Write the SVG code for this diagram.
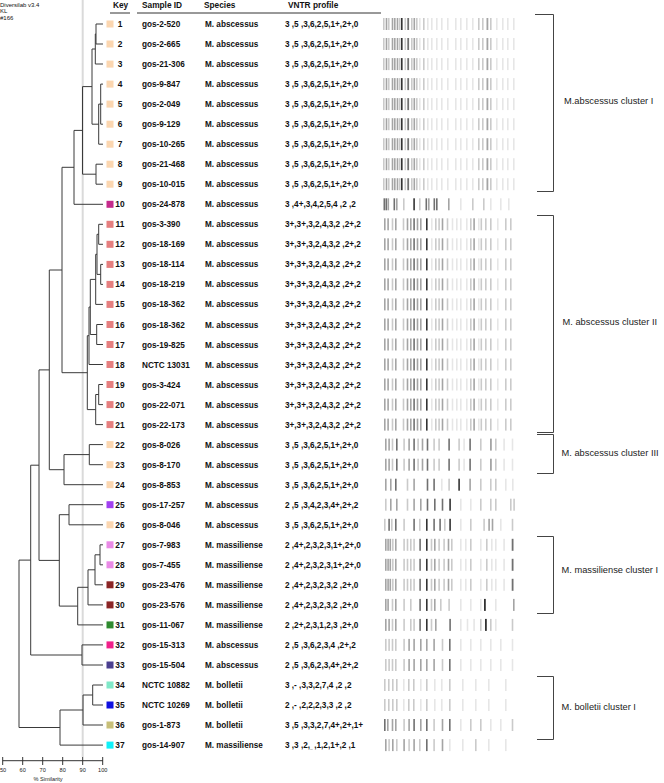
<svg xmlns="http://www.w3.org/2000/svg" xmlns:xlink="http://www.w3.org/1999/xlink" width="664" height="783" viewBox="0 0 664 783">
<style>
text{font-family:"Liberation Sans",Arial,sans-serif;fill:#111}
.hd{font-size:8.3px;font-weight:bold}
.t{font-size:8.2px;font-weight:bold}
.n{font-size:8.4px;font-weight:bold;text-anchor:middle}
.cl{font-size:9.3px;fill:#222}
.sm{font-size:6px;fill:#111}
.ax{font-size:5.6px;fill:#222;text-anchor:middle}
.tree{fill:none;stroke:#3a3a3a;stroke-width:1}
.br{fill:none;stroke:#444;stroke-width:1}
.k1{fill:#e6e6e6}.k2{fill:#cacaca}.k3{fill:#a4a4a4}.k4{fill:#707070}.k5{fill:#333}
</style>
<defs>
<filter id="soft" x="-2%" y="0" width="104%" height="100%"><feGaussianBlur stdDeviation="0.65 0"/></filter>
<g id="bA" filter="url(#soft)"><rect class="k2" x="383" y="-6" width="1.6" height="12"/><rect class="k3" x="385.7" y="-6" width="1.6" height="12"/><rect class="k2" x="388" y="-6" width="1.6" height="12"/><rect class="k3" x="391.7" y="-6" width="1.6" height="12"/><rect class="k3" x="394" y="-6" width="1.6" height="12"/><rect class="k3" x="396.7" y="-6" width="1.6" height="12"/><rect class="k2" x="399" y="-6" width="1.6" height="12"/><rect class="k5" x="401" y="-6" width="1.6" height="12"/><rect class="k2" x="404.5" y="-6" width="1.6" height="12"/><rect class="k4" x="407.3" y="-6" width="1.8" height="12"/><rect class="k2" x="411" y="-6" width="1.6" height="12"/><rect class="k3" x="413.5" y="-6" width="1.6" height="12"/><rect class="k2" x="416" y="-6" width="1.6" height="12"/><rect class="k1" x="419" y="-6" width="1.6" height="12"/><rect class="k2" x="423" y="-6" width="1.6" height="12"/><rect class="k1" x="427" y="-6" width="1.6" height="12"/><rect class="k1" x="431" y="-6" width="1.6" height="12"/><rect class="k1" x="436" y="-6" width="1.6" height="12"/><rect class="k1" x="441" y="-6" width="1.6" height="12"/><rect class="k1" x="447" y="-6" width="1.6" height="12"/><rect class="k1" x="455" y="-6" width="1.6" height="12"/><rect class="k1" x="460" y="-6" width="1.6" height="12"/><rect class="k1" x="466" y="-6" width="1.6" height="12"/><rect class="k1" x="472" y="-6" width="1.6" height="12"/><rect class="k2" x="478" y="-6" width="1.6" height="12"/><rect class="k2" x="482" y="-6" width="1.6" height="12"/><rect class="k3" x="486.5" y="-6" width="1.8" height="12"/><rect class="k2" x="490" y="-6" width="1.6" height="12"/><rect class="k1" x="496" y="-6" width="1.6" height="12"/><rect class="k1" x="502" y="-6" width="1.6" height="12"/><rect class="k1" x="507" y="-6" width="1.6" height="12"/><rect class="k1" x="513" y="-6" width="1.6" height="12"/></g>
<g id="bB" filter="url(#soft)"><rect class="k4" x="383.5" y="-6" width="1.6" height="12"/><rect class="k4" x="385.5" y="-6" width="1.6" height="12"/><rect class="k3" x="387.5" y="-6" width="1.6" height="12"/><rect class="k4" x="393.5" y="-6" width="1.6" height="12"/><rect class="k3" x="396" y="-6" width="1.6" height="12"/><rect class="k2" x="403" y="-6" width="1.6" height="12"/><rect class="k5" x="413.3" y="-6" width="1.6" height="12"/><rect class="k2" x="419" y="-6" width="1.6" height="12"/><rect class="k4" x="425.5" y="-6" width="1.6" height="12"/><rect class="k3" x="428" y="-6" width="1.6" height="12"/><rect class="k4" x="433.5" y="-6" width="1.6" height="12"/><rect class="k4" x="436" y="-6" width="1.6" height="12"/><rect class="k3" x="448" y="-6" width="1.6" height="12"/><rect class="k1" x="460" y="-6" width="1.6" height="12"/><rect class="k2" x="472" y="-6" width="1.6" height="12"/><rect class="k2" x="483" y="-6" width="1.6" height="12"/><rect class="k1" x="490" y="-6" width="1.6" height="12"/><rect class="k1" x="500" y="-6" width="1.6" height="12"/><rect class="k1" x="508" y="-6" width="1.6" height="12"/></g>
<g id="bC" filter="url(#soft)"><rect class="k3" x="384" y="-6" width="1.6" height="12"/><rect class="k3" x="387.3" y="-6" width="1.6" height="12"/><rect class="k2" x="391.7" y="-6" width="1.6" height="12"/><rect class="k3" x="395" y="-6" width="1.6" height="12"/><rect class="k2" x="402.7" y="-6" width="1.6" height="12"/><rect class="k3" x="406.7" y="-6" width="1.6" height="12"/><rect class="k3" x="410" y="-6" width="1.6" height="12"/><rect class="k4" x="413.3" y="-6" width="1.6" height="12"/><rect class="k3" x="416.7" y="-6" width="1.6" height="12"/><rect class="k3" x="420" y="-6" width="1.6" height="12"/><rect class="k5" x="426" y="-6" width="1.6" height="12"/><rect class="k1" x="431" y="-6" width="1.6" height="12"/><rect class="k2" x="435" y="-6" width="1.6" height="12"/><rect class="k2" x="438.3" y="-6" width="1.6" height="12"/><rect class="k3" x="441.7" y="-6" width="1.6" height="12"/><rect class="k2" x="446.7" y="-6" width="1.6" height="12"/><rect class="k1" x="451.7" y="-6" width="1.6" height="12"/><rect class="k1" x="456" y="-6" width="1.6" height="12"/><rect class="k1" x="460" y="-6" width="1.6" height="12"/><rect class="k1" x="466" y="-6" width="1.6" height="12"/><rect class="k2" x="470" y="-6" width="1.6" height="12"/><rect class="k3" x="473.3" y="-6" width="1.6" height="12"/><rect class="k1" x="478" y="-6" width="1.6" height="12"/><rect class="k2" x="480.5" y="-6" width="1.6" height="12"/><rect class="k2" x="485" y="-6" width="1.6" height="12"/><rect class="k2" x="490" y="-6" width="1.6" height="12"/><rect class="k1" x="497" y="-6" width="1.6" height="12"/><rect class="k2" x="505" y="-6" width="1.6" height="12"/><rect class="k2" x="510" y="-6" width="1.6" height="12"/></g>
<g id="bD" filter="url(#soft)"><rect class="k3" x="385" y="-6" width="1.6" height="12"/><rect class="k3" x="388.3" y="-6" width="1.6" height="12"/><rect class="k2" x="391.7" y="-6" width="1.6" height="12"/><rect class="k4" x="396" y="-6" width="1.6" height="12"/><rect class="k2" x="403.3" y="-6" width="1.6" height="12"/><rect class="k3" x="408.3" y="-6" width="1.6" height="12"/><rect class="k4" x="413.3" y="-6" width="1.6" height="12"/><rect class="k2" x="417.3" y="-6" width="1.6" height="12"/><rect class="k3" x="421.7" y="-6" width="1.6" height="12"/><rect class="k4" x="426.7" y="-6" width="1.6" height="12"/><rect class="k2" x="433.3" y="-6" width="1.6" height="12"/><rect class="k2" x="438.3" y="-6" width="1.6" height="12"/><rect class="k4" x="448.3" y="-6" width="1.6" height="12"/><rect class="k2" x="458.3" y="-6" width="1.6" height="12"/><rect class="k1" x="463.3" y="-6" width="1.6" height="12"/><rect class="k4" x="469.3" y="-6" width="1.6" height="12"/><rect class="k2" x="480" y="-6" width="1.6" height="12"/><rect class="k3" x="490" y="-6" width="1.8" height="12"/><rect class="k2" x="495" y="-6" width="1.6" height="12"/><rect class="k1" x="503.3" y="-6" width="1.6" height="12"/><rect class="k1" x="511.7" y="-6" width="1.6" height="12"/></g>
<g id="bE" filter="url(#soft)"><rect class="k3" x="385" y="-6" width="1.6" height="12"/><rect class="k3" x="390" y="-6" width="1.6" height="12"/><rect class="k4" x="395" y="-6" width="1.6" height="12"/><rect class="k2" x="406.7" y="-6" width="1.6" height="12"/><rect class="k3" x="413.3" y="-6" width="1.6" height="12"/><rect class="k4" x="426.7" y="-6" width="1.6" height="12"/><rect class="k4" x="433.3" y="-6" width="1.6" height="12"/><rect class="k1" x="441" y="-6" width="1.6" height="12"/><rect class="k2" x="448.3" y="-6" width="1.6" height="12"/><rect class="k5" x="458.3" y="-6" width="1.6" height="12"/><rect class="k3" x="469.3" y="-6" width="1.6" height="12"/><rect class="k2" x="480" y="-6" width="1.6" height="12"/><rect class="k2" x="490" y="-6" width="1.6" height="12"/><rect class="k2" x="495" y="-6" width="1.6" height="12"/><rect class="k1" x="505" y="-6" width="1.6" height="12"/><rect class="k1" x="512" y="-6" width="1.6" height="12"/></g>
<g id="bF" filter="url(#soft)"><rect class="k2" x="385" y="-6" width="1.6" height="12"/><rect class="k3" x="390" y="-6" width="1.6" height="12"/><rect class="k3" x="396" y="-6" width="1.6" height="12"/><rect class="k2" x="406.7" y="-6" width="1.6" height="12"/><rect class="k3" x="413.3" y="-6" width="1.6" height="12"/><rect class="k3" x="420" y="-6" width="1.6" height="12"/><rect class="k4" x="426.7" y="-6" width="1.6" height="12"/><rect class="k4" x="434" y="-6" width="1.6" height="12"/><rect class="k4" x="441.7" y="-6" width="1.6" height="12"/><rect class="k5" x="449.3" y="-6" width="1.6" height="12"/><rect class="k1" x="460" y="-6" width="1.6" height="12"/><rect class="k1" x="470" y="-6" width="1.6" height="12"/><rect class="k2" x="480" y="-6" width="1.6" height="12"/><rect class="k2" x="490" y="-6" width="1.6" height="12"/><rect class="k2" x="495" y="-6" width="1.6" height="12"/><rect class="k2" x="510" y="-6" width="1.6" height="12"/><rect class="k2" x="513.3" y="-6" width="1.6" height="12"/></g>
<g id="bG" filter="url(#soft)"><rect class="k2" x="384" y="-6" width="1.6" height="12"/><rect class="k4" x="388.3" y="-6" width="1.6" height="12"/><rect class="k2" x="391" y="-6" width="1.6" height="12"/><rect class="k4" x="395" y="-6" width="1.6" height="12"/><rect class="k2" x="403.3" y="-6" width="1.6" height="12"/><rect class="k4" x="413.3" y="-6" width="1.6" height="12"/><rect class="k2" x="419" y="-6" width="1.6" height="12"/><rect class="k5" x="426" y="-6" width="1.6" height="12"/><rect class="k4" x="433.3" y="-6" width="1.6" height="12"/><rect class="k4" x="439.3" y="-6" width="1.6" height="12"/><rect class="k2" x="444" y="-6" width="1.6" height="12"/><rect class="k5" x="449.3" y="-6" width="1.6" height="12"/><rect class="k1" x="460" y="-6" width="1.6" height="12"/><rect class="k2" x="470" y="-6" width="1.6" height="12"/><rect class="k2" x="483.3" y="-6" width="1.6" height="12"/><rect class="k3" x="488.3" y="-6" width="1.6" height="12"/><rect class="k3" x="491.7" y="-6" width="1.6" height="12"/><rect class="k1" x="500" y="-6" width="1.6" height="12"/><rect class="k2" x="511.7" y="-6" width="1.6" height="12"/></g>
<g id="bH" filter="url(#soft)"><rect class="k3" x="385" y="-6" width="1.6" height="12"/><rect class="k3" x="387.3" y="-6" width="1.6" height="12"/><rect class="k3" x="389.5" y="-6" width="1.6" height="12"/><rect class="k2" x="392" y="-6" width="1.6" height="12"/><rect class="k3" x="395" y="-6" width="1.6" height="12"/><rect class="k2" x="403.3" y="-6" width="1.6" height="12"/><rect class="k2" x="406.7" y="-6" width="1.6" height="12"/><rect class="k2" x="410" y="-6" width="1.6" height="12"/><rect class="k2" x="413.3" y="-6" width="1.6" height="12"/><rect class="k4" x="419.3" y="-6" width="1.6" height="12"/><rect class="k5" x="426" y="-6" width="1.6" height="12"/><rect class="k2" x="430.7" y="-6" width="1.6" height="12"/><rect class="k3" x="434" y="-6" width="1.6" height="12"/><rect class="k2" x="438.3" y="-6" width="1.6" height="12"/><rect class="k2" x="443.3" y="-6" width="1.6" height="12"/><rect class="k3" x="447.7" y="-6" width="1.6" height="12"/><rect class="k2" x="451" y="-6" width="1.6" height="12"/><rect class="k1" x="460" y="-6" width="1.6" height="12"/><rect class="k1" x="465" y="-6" width="1.6" height="12"/><rect class="k2" x="470" y="-6" width="1.6" height="12"/><rect class="k1" x="480" y="-6" width="1.6" height="12"/><rect class="k2" x="486" y="-6" width="1.6" height="12"/><rect class="k1" x="491" y="-6" width="1.6" height="12"/><rect class="k1" x="495" y="-6" width="1.6" height="12"/><rect class="k1" x="503.3" y="-6" width="1.6" height="12"/><rect class="k4" x="511.7" y="-6" width="1.8" height="12"/></g>
<g id="bH2" filter="url(#soft)"><rect class="k3" x="385" y="-6" width="1.6" height="12"/><rect class="k3" x="387.3" y="-6" width="1.6" height="12"/><rect class="k2" x="391.7" y="-6" width="1.6" height="12"/><rect class="k3" x="395" y="-6" width="1.6" height="12"/><rect class="k2" x="403.3" y="-6" width="1.6" height="12"/><rect class="k2" x="410" y="-6" width="1.6" height="12"/><rect class="k4" x="419.3" y="-6" width="1.6" height="12"/><rect class="k5" x="426" y="-6" width="1.6" height="12"/><rect class="k2" x="430.7" y="-6" width="1.6" height="12"/><rect class="k3" x="434" y="-6" width="1.6" height="12"/><rect class="k2" x="440" y="-6" width="1.6" height="12"/><rect class="k2" x="448.3" y="-6" width="1.6" height="12"/><rect class="k1" x="460" y="-6" width="1.6" height="12"/><rect class="k1" x="470" y="-6" width="1.6" height="12"/><rect class="k1" x="480" y="-6" width="1.6" height="12"/><rect class="k5" x="484" y="-6" width="1.8" height="12"/><rect class="k1" x="495" y="-6" width="1.6" height="12"/><rect class="k3" x="513" y="-6" width="1.6" height="12"/></g>
<g id="bH3" filter="url(#soft)"><rect class="k3" x="385" y="-6" width="1.6" height="12"/><rect class="k3" x="388.3" y="-6" width="1.6" height="12"/><rect class="k2" x="391.7" y="-6" width="1.6" height="12"/><rect class="k3" x="395" y="-6" width="1.6" height="12"/><rect class="k2" x="403.3" y="-6" width="1.6" height="12"/><rect class="k2" x="410" y="-6" width="1.6" height="12"/><rect class="k2" x="413.3" y="-6" width="1.6" height="12"/><rect class="k4" x="419.3" y="-6" width="1.6" height="12"/><rect class="k5" x="426" y="-6" width="1.6" height="12"/><rect class="k2" x="430.7" y="-6" width="1.6" height="12"/><rect class="k3" x="435" y="-6" width="1.6" height="12"/><rect class="k4" x="449.3" y="-6" width="1.6" height="12"/><rect class="k1" x="460" y="-6" width="1.6" height="12"/><rect class="k1" x="466.7" y="-6" width="1.6" height="12"/><rect class="k1" x="473.3" y="-6" width="1.6" height="12"/><rect class="k2" x="480" y="-6" width="1.6" height="12"/><rect class="k5" x="485" y="-6" width="1.8" height="12"/><rect class="k2" x="490" y="-6" width="1.6" height="12"/><rect class="k1" x="495" y="-6" width="1.6" height="12"/><rect class="k2" x="511.7" y="-6" width="1.6" height="12"/></g>
<g id="bI" filter="url(#soft)"><rect class="k2" x="385" y="-6" width="1.6" height="12"/><rect class="k2" x="388.3" y="-6" width="1.6" height="12"/><rect class="k2" x="391.7" y="-6" width="1.6" height="12"/><rect class="k2" x="395" y="-6" width="1.6" height="12"/><rect class="k2" x="403.3" y="-6" width="1.6" height="12"/><rect class="k3" x="408.3" y="-6" width="1.6" height="12"/><rect class="k3" x="413.3" y="-6" width="1.6" height="12"/><rect class="k3" x="420" y="-6" width="1.6" height="12"/><rect class="k3" x="426" y="-6" width="1.6" height="12"/><rect class="k3" x="433.3" y="-6" width="1.6" height="12"/><rect class="k2" x="441.7" y="-6" width="1.6" height="12"/><rect class="k4" x="449" y="-6" width="1.6" height="12"/><rect class="k1" x="460" y="-6" width="1.6" height="12"/><rect class="k1" x="470" y="-6" width="1.6" height="12"/><rect class="k1" x="480" y="-6" width="1.6" height="12"/><rect class="k1" x="490" y="-6" width="1.6" height="12"/><rect class="k1" x="500" y="-6" width="1.6" height="12"/><rect class="k1" x="511.7" y="-6" width="1.6" height="12"/></g>
<g id="bJ" filter="url(#soft)"><rect class="k2" x="384" y="-6" width="1.6" height="12"/><rect class="k2" x="388" y="-6" width="1.6" height="12"/><rect class="k2" x="392" y="-6" width="1.6" height="12"/><rect class="k2" x="396" y="-6" width="1.6" height="12"/><rect class="k1" x="403" y="-6" width="1.6" height="12"/><rect class="k2" x="408" y="-6" width="1.6" height="12"/><rect class="k2" x="413" y="-6" width="1.6" height="12"/><rect class="k1" x="420" y="-6" width="1.6" height="12"/><rect class="k2" x="426" y="-6" width="1.6" height="12"/><rect class="k1" x="434" y="-6" width="1.6" height="12"/><rect class="k1" x="441" y="-6" width="1.6" height="12"/><rect class="k2" x="449" y="-6" width="1.6" height="12"/><rect class="k1" x="462" y="-6" width="1.6" height="12"/><rect class="k1" x="475" y="-6" width="1.6" height="12"/><rect class="k1" x="488" y="-6" width="1.6" height="12"/><rect class="k1" x="505" y="-6" width="1.6" height="12"/></g>
<g id="bK" filter="url(#soft)"><rect class="k4" x="384" y="-6" width="1.6" height="12"/><rect class="k3" x="387" y="-6" width="1.6" height="12"/><rect class="k3" x="391.7" y="-6" width="1.6" height="12"/><rect class="k3" x="395" y="-6" width="1.6" height="12"/><rect class="k2" x="403.3" y="-6" width="1.6" height="12"/><rect class="k3" x="408.3" y="-6" width="1.6" height="12"/><rect class="k4" x="413.3" y="-6" width="1.6" height="12"/><rect class="k3" x="420" y="-6" width="1.6" height="12"/><rect class="k4" x="426" y="-6" width="1.6" height="12"/><rect class="k2" x="433.3" y="-6" width="1.6" height="12"/><rect class="k3" x="441.7" y="-6" width="1.6" height="12"/><rect class="k4" x="449" y="-6" width="1.6" height="12"/><rect class="k1" x="460" y="-6" width="1.6" height="12"/><rect class="k2" x="470" y="-6" width="1.6" height="12"/><rect class="k2" x="480" y="-6" width="1.6" height="12"/><rect class="k1" x="490" y="-6" width="1.6" height="12"/><rect class="k1" x="500" y="-6" width="1.6" height="12"/><rect class="k2" x="511.7" y="-6" width="1.6" height="12"/></g>
<g id="bL" filter="url(#soft)"><rect class="k3" x="385" y="-6" width="1.6" height="12"/><rect class="k2" x="388.3" y="-6" width="1.6" height="12"/><rect class="k3" x="392" y="-6" width="1.6" height="12"/><rect class="k2" x="396" y="-6" width="1.6" height="12"/><rect class="k3" x="403.3" y="-6" width="1.6" height="12"/><rect class="k2" x="408.3" y="-6" width="1.6" height="12"/><rect class="k3" x="413.3" y="-6" width="1.6" height="12"/><rect class="k2" x="419" y="-6" width="1.6" height="12"/><rect class="k4" x="426" y="-6" width="1.6" height="12"/><rect class="k2" x="433.3" y="-6" width="1.6" height="12"/><rect class="k3" x="441.7" y="-6" width="1.6" height="12"/><rect class="k1" x="449" y="-6" width="1.6" height="12"/><rect class="k1" x="462" y="-6" width="1.6" height="12"/><rect class="k2" x="475" y="-6" width="1.6" height="12"/><rect class="k1" x="488" y="-6" width="1.6" height="12"/><rect class="k1" x="505" y="-6" width="1.6" height="12"/></g>
</defs>
<rect width="664" height="783" fill="#fff"/>
<text class="sm" x="0" y="7">Diversilab v3.4</text>
<text class="sm" x="0" y="13">KL</text>
<text class="sm" x="0" y="20">#166</text>
<line x1="82.7" y1="0" x2="82.7" y2="757" stroke="#dadada" stroke-width="2"/>
<g id="header">
<text class="hd" x="113" y="8">Key</text>
<text class="hd" x="142" y="8">Sample ID</text>
<text class="hd" x="204" y="8">Species</text>
<text class="hd" x="288" y="8">VNTR profile</text>
<line x1="110" y1="13" x2="130" y2="13" stroke="#333"/>
<line x1="137" y1="13" x2="381" y2="13" stroke="#333"/>
</g>
<g id="connectors" class="tree">
<path d="M103 24H96V44H103 M96 34H95.3V64H103 M103 84.1H100.7V124.2H103 M100.7 104.1H103 M100.7 104.1H98.7V144.2H103 M95.3 49H92V124.2H98.7 M103 164.2H96V184.2H103 M92 86.6H82.5V174.2H96 M82.5 130.4H74V204.3H103"/>
<path d="M103 224.3H98.7V244.3H103 M103 264.4H100.7V284.4H103 M98.7 234.3H97V274.4H100.7 M97 254.3H95.7V304.4H103 M103 324.5H96.7V344.5H103 M95.7 279.4H90.3V334.5H96.7 M90.3 307H89V364.5H103 M103 384.5H98.7V404.6H103 M98.7 394.5H95.7V424.6H103 M89 335.7H87.3V409.6H95.7 M74 167.3H62V372.7H87.3"/>
<path d="M103 444.6H89.3V464.7H103 M89.3 454.6H64V484.7H103 M62 270H49.3V469.7H64 M103 504.7H69V524.8H103 M103 544.8H100V564.8H103 M100 554.8H95V584.8H103 M95 569.8H88V604.9H103 M88 587.3H77.7V624.9H103 M69 514.7H59.3V606.1H77.7 M49.3 369.9H39V560.4H59.3 M103 644.9H82V665H103 M39 465.2H30.7V655H82 M103 685H92.7V705H103 M92.7 695H83V725H103 M83 710H60V745.1H103 M30.7 560.1H19V727.5H60"/>
</g>
<g id="axis">
<line x1="2.7" y1="760.7" x2="103" y2="760.7" stroke="#333"/>
<path d="M2.7 757V765 M22.7 757V765 M42.7 757V765 M62.7 757V765 M82.7 757V765 M102.7 757V765" stroke="#333" fill="none"/>
<text class="ax" x="3" y="772">50</text>
<text class="ax" x="22.7" y="772">60</text>
<text class="ax" x="42.7" y="772">70</text>
<text class="ax" x="62.7" y="772">80</text>
<text class="ax" x="82.7" y="772">90</text>
<text class="ax" x="102.7" y="772">100</text>
<text class="ax" x="48" y="781">% Similarity</text>
</g>
<g id="row1"><rect x="106.5" y="20.5" width="7" height="7" fill="#fbd6b0"/><text class="n" x="120" y="27">1</text><text class="t" x="142" y="27">gos-2-520</text><text class="t" x="205" y="27">M. abscessus</text><text class="t" x="285" y="27">3 ,5 ,3,6,2,5,1+,2+,0</text><use xlink:href="#bA" y="24"/></g>
<g id="row2"><rect x="106.5" y="40.5" width="7" height="7" fill="#fbd6b0"/><text class="n" x="120" y="47">2</text><text class="t" x="142" y="47">gos-2-665</text><text class="t" x="205" y="47">M. abscessus</text><text class="t" x="285" y="47">3 ,5 ,3,6,2,5,1+,2+,0</text><use xlink:href="#bA" y="44"/></g>
<g id="row3"><rect x="106.5" y="60.6" width="7" height="7" fill="#fbd6b0"/><text class="n" x="120" y="67.1">3</text><text class="t" x="142" y="67.1">gos-21-306</text><text class="t" x="205" y="67.1">M. abscessus</text><text class="t" x="285" y="67.1">3 ,5 ,3,6,2,5,1+,2+,0</text><use xlink:href="#bA" y="64.1"/></g>
<g id="row4"><rect x="106.5" y="80.6" width="7" height="7" fill="#fbd6b0"/><text class="n" x="120" y="87.1">4</text><text class="t" x="142" y="87.1">gos-9-847</text><text class="t" x="205" y="87.1">M. abscessus</text><text class="t" x="285" y="87.1">3 ,5 ,3,6,2,5,1+,2+,0</text><use xlink:href="#bA" y="84.1"/></g>
<g id="row5"><rect x="106.5" y="100.6" width="7" height="7" fill="#fbd6b0"/><text class="n" x="120" y="107.1">5</text><text class="t" x="142" y="107.1">gos-2-049</text><text class="t" x="205" y="107.1">M. abscessus</text><text class="t" x="285" y="107.1">3 ,5 ,3,6,2,5,1+,2+,0</text><use xlink:href="#bA" y="104.1"/></g>
<g id="row6"><rect x="106.5" y="120.7" width="7" height="7" fill="#fbd6b0"/><text class="n" x="120" y="127.2">6</text><text class="t" x="142" y="127.2">gos-9-129</text><text class="t" x="205" y="127.2">M. abscessus</text><text class="t" x="285" y="127.2">3 ,5 ,3,6,2,5,1+,2+,0</text><use xlink:href="#bA" y="124.2"/></g>
<g id="row7"><rect x="106.5" y="140.7" width="7" height="7" fill="#fbd6b0"/><text class="n" x="120" y="147.2">7</text><text class="t" x="142" y="147.2">gos-10-265</text><text class="t" x="205" y="147.2">M. abscessus</text><text class="t" x="285" y="147.2">3 ,5 ,3,6,2,5,1+,2+,0</text><use xlink:href="#bA" y="144.2"/></g>
<g id="row8"><rect x="106.5" y="160.7" width="7" height="7" fill="#fbd6b0"/><text class="n" x="120" y="167.2">8</text><text class="t" x="142" y="167.2">gos-21-468</text><text class="t" x="205" y="167.2">M. abscessus</text><text class="t" x="285" y="167.2">3 ,5 ,3,6,2,5,1+,2+,0</text><use xlink:href="#bA" y="164.2"/></g>
<g id="row9"><rect x="106.5" y="180.7" width="7" height="7" fill="#fbd6b0"/><text class="n" x="120" y="187.2">9</text><text class="t" x="142" y="187.2">gos-10-015</text><text class="t" x="205" y="187.2">M. abscessus</text><text class="t" x="285" y="187.2">3 ,5 ,3,6,2,5,1+,2+,0</text><use xlink:href="#bA" y="184.2"/></g>
<g id="row10"><rect x="106.5" y="200.8" width="7" height="7" fill="#c42b8c"/><text class="n" x="120" y="207.3">10</text><text class="t" x="142" y="207.3">gos-24-878</text><text class="t" x="205" y="207.3">M. abscessus</text><text class="t" x="285" y="207.3">3 ,4+,3,4,2,5,4 ,2 ,2</text><use xlink:href="#bB" y="204.3"/></g>
<g id="row11"><rect x="106.5" y="220.8" width="7" height="7" fill="#e57f7f"/><text class="n" x="120" y="227.3">11</text><text class="t" x="142" y="227.3">gos-3-390</text><text class="t" x="205" y="227.3">M. abscessus</text><text class="t" x="285" y="227.3">3+,3+,3,2,4,3,2 ,2+,2</text><use xlink:href="#bC" y="224.3"/></g>
<g id="row12"><rect x="106.5" y="240.8" width="7" height="7" fill="#e57f7f"/><text class="n" x="120" y="247.3">12</text><text class="t" x="142" y="247.3">gos-18-169</text><text class="t" x="205" y="247.3">M. abscessus</text><text class="t" x="285" y="247.3">3+,3+,3,2,4,3,2 ,2+,2</text><use xlink:href="#bC" y="244.3"/></g>
<g id="row13"><rect x="106.5" y="260.9" width="7" height="7" fill="#e57f7f"/><text class="n" x="120" y="267.4">13</text><text class="t" x="142" y="267.4">gos-18-114</text><text class="t" x="205" y="267.4">M. abscessus</text><text class="t" x="285" y="267.4">3+,3+,3,2,4,3,2 ,2+,2</text><use xlink:href="#bC" y="264.4"/></g>
<g id="row14"><rect x="106.5" y="280.9" width="7" height="7" fill="#e57f7f"/><text class="n" x="120" y="287.4">14</text><text class="t" x="142" y="287.4">gos-18-219</text><text class="t" x="205" y="287.4">M. abscessus</text><text class="t" x="285" y="287.4">3+,3+,3,2,4,3,2 ,2+,2</text><use xlink:href="#bC" y="284.4"/></g>
<g id="row15"><rect x="106.5" y="300.9" width="7" height="7" fill="#e57f7f"/><text class="n" x="120" y="307.4">15</text><text class="t" x="142" y="307.4">gos-18-362</text><text class="t" x="205" y="307.4">M. abscessus</text><text class="t" x="285" y="307.4">3+,3+,3,2,4,3,2 ,2+,2</text><use xlink:href="#bC" y="304.4"/></g>
<g id="row16"><rect x="106.5" y="321" width="7" height="7" fill="#e57f7f"/><text class="n" x="120" y="327.5">16</text><text class="t" x="142" y="327.5">gos-18-362</text><text class="t" x="205" y="327.5">M. abscessus</text><text class="t" x="285" y="327.5">3+,3+,3,2,4,3,2 ,2+,2</text><use xlink:href="#bC" y="324.5"/></g>
<g id="row17"><rect x="106.5" y="341" width="7" height="7" fill="#e57f7f"/><text class="n" x="120" y="347.5">17</text><text class="t" x="142" y="347.5">gos-19-825</text><text class="t" x="205" y="347.5">M. abscessus</text><text class="t" x="285" y="347.5">3+,3+,3,2,4,3,2 ,2+,2</text><use xlink:href="#bC" y="344.5"/></g>
<g id="row18"><rect x="106.5" y="361" width="7" height="7" fill="#e57f7f"/><text class="n" x="120" y="367.5">18</text><text class="t" x="142" y="367.5">NCTC 13031</text><text class="t" x="205" y="367.5">M. abscessus</text><text class="t" x="285" y="367.5">3+,3+,3,2,4,3,2 ,2+,2</text><use xlink:href="#bC" y="364.5"/></g>
<g id="row19"><rect x="106.5" y="381" width="7" height="7" fill="#e57f7f"/><text class="n" x="120" y="387.5">19</text><text class="t" x="142" y="387.5">gos-3-424</text><text class="t" x="205" y="387.5">M. abscessus</text><text class="t" x="285" y="387.5">3+,3+,3,2,4,3,2 ,2+,2</text><use xlink:href="#bC" y="384.5"/></g>
<g id="row20"><rect x="106.5" y="401.1" width="7" height="7" fill="#e57f7f"/><text class="n" x="120" y="407.6">20</text><text class="t" x="142" y="407.6">gos-22-071</text><text class="t" x="205" y="407.6">M. abscessus</text><text class="t" x="285" y="407.6">3+,3+,3,2,4,3,2 ,2+,2</text><use xlink:href="#bC" y="404.6"/></g>
<g id="row21"><rect x="106.5" y="421.1" width="7" height="7" fill="#e57f7f"/><text class="n" x="120" y="427.6">21</text><text class="t" x="142" y="427.6">gos-22-173</text><text class="t" x="205" y="427.6">M. abscessus</text><text class="t" x="285" y="427.6">3+,3+,3,2,4,3,2 ,2+,2</text><use xlink:href="#bC" y="424.6"/></g>
<g id="row22"><rect x="106.5" y="441.1" width="7" height="7" fill="#fbd6b0"/><text class="n" x="120" y="447.6">22</text><text class="t" x="142" y="447.6">gos-8-026</text><text class="t" x="205" y="447.6">M. abscessus</text><text class="t" x="285" y="447.6">3 ,5 ,3,6,2,5,1+,2+,0</text><use xlink:href="#bD" y="444.6"/></g>
<g id="row23"><rect x="106.5" y="461.2" width="7" height="7" fill="#fbd6b0"/><text class="n" x="120" y="467.7">23</text><text class="t" x="142" y="467.7">gos-8-170</text><text class="t" x="205" y="467.7">M. abscessus</text><text class="t" x="285" y="467.7">3 ,5 ,3,6,2,5,1+,2+,0</text><use xlink:href="#bD" y="464.7"/></g>
<g id="row24"><rect x="106.5" y="481.2" width="7" height="7" fill="#fbd6b0"/><text class="n" x="120" y="487.7">24</text><text class="t" x="142" y="487.7">gos-8-853</text><text class="t" x="205" y="487.7">M. abscessus</text><text class="t" x="285" y="487.7">3 ,5 ,3,6,2,5,1+,2+,0</text><use xlink:href="#bE" y="484.7"/></g>
<g id="row25"><rect x="106.5" y="501.2" width="7" height="7" fill="#a040f0"/><text class="n" x="120" y="507.7">25</text><text class="t" x="142" y="507.7">gos-17-257</text><text class="t" x="205" y="507.7">M. abscessus</text><text class="t" x="285" y="507.7">2 ,5 ,3,4,2,3,4+,2+,2</text><use xlink:href="#bF" y="504.7"/></g>
<g id="row26"><rect x="106.5" y="521.3" width="7" height="7" fill="#fbd6b0"/><text class="n" x="120" y="527.8">26</text><text class="t" x="142" y="527.8">gos-8-046</text><text class="t" x="205" y="527.8">M. abscessus</text><text class="t" x="285" y="527.8">3 ,5 ,3,6,2,5,1+,2+,0</text><use xlink:href="#bG" y="524.8"/></g>
<g id="row27"><rect x="106.5" y="541.3" width="7" height="7" fill="#e98ae6"/><text class="n" x="120" y="547.8">27</text><text class="t" x="142" y="547.8">gos-7-983</text><text class="t" x="205" y="547.8">M. massiliense</text><text class="t" x="285" y="547.8">2 ,4+,2,3,2,3,1+,2+,0</text><use xlink:href="#bH" y="544.8"/></g>
<g id="row28"><rect x="106.5" y="561.3" width="7" height="7" fill="#e98ae6"/><text class="n" x="120" y="567.8">28</text><text class="t" x="142" y="567.8">gos-7-455</text><text class="t" x="205" y="567.8">M. massiliense</text><text class="t" x="285" y="567.8">2 ,4+,2,3,2,3,1+,2+,0</text><use xlink:href="#bH" y="564.8"/></g>
<g id="row29"><rect x="106.5" y="581.3" width="7" height="7" fill="#8b2525"/><text class="n" x="120" y="587.8">29</text><text class="t" x="142" y="587.8">gos-23-476</text><text class="t" x="205" y="587.8">M. massiliense</text><text class="t" x="285" y="587.8">2 ,4+,2,3,2,3,2 ,2+,0</text><use xlink:href="#bH" y="584.8"/></g>
<g id="row30"><rect x="106.5" y="601.4" width="7" height="7" fill="#8b2525"/><text class="n" x="120" y="607.9">30</text><text class="t" x="142" y="607.9">gos-23-576</text><text class="t" x="205" y="607.9">M. massiliense</text><text class="t" x="285" y="607.9">2 ,4+,2,3,2,3,2 ,2+,0</text><use xlink:href="#bH2" y="604.9"/></g>
<g id="row31"><rect x="106.5" y="621.4" width="7" height="7" fill="#2f8a2f"/><text class="n" x="120" y="627.9">31</text><text class="t" x="142" y="627.9">gos-11-067</text><text class="t" x="205" y="627.9">M. massiliense</text><text class="t" x="285" y="627.9">2 ,2+,2,3,1,2,3 ,2+,0</text><use xlink:href="#bH3" y="624.9"/></g>
<g id="row32"><rect x="106.5" y="641.4" width="7" height="7" fill="#f0208a"/><text class="n" x="120" y="647.9">32</text><text class="t" x="142" y="647.9">gos-15-313</text><text class="t" x="205" y="647.9">M. abscessus</text><text class="t" x="285" y="647.9">2 ,5 ,3,6,2,3,4 ,2+,2</text><use xlink:href="#bI" y="644.9"/></g>
<g id="row33"><rect x="106.5" y="661.5" width="7" height="7" fill="#4b3f8f"/><text class="n" x="120" y="668">33</text><text class="t" x="142" y="668">gos-15-504</text><text class="t" x="205" y="668">M. abscessus</text><text class="t" x="285" y="668">2 ,5 ,3,6,2,3,4+,2+,2</text><use xlink:href="#bI" y="665"/></g>
<g id="row34"><rect x="106.5" y="681.5" width="7" height="7" fill="#80e8c8"/><text class="n" x="120" y="688">34</text><text class="t" x="142" y="688">NCTC 10882</text><text class="t" x="205" y="688">M. bolletii</text><text class="t" x="285" y="688">3 ,- ,3,3,2,7,4 ,2 ,2</text><use xlink:href="#bJ" y="685"/></g>
<g id="row35"><rect x="106.5" y="701.5" width="7" height="7" fill="#1010e0"/><text class="n" x="120" y="708">35</text><text class="t" x="142" y="708">NCTC 10269</text><text class="t" x="205" y="708">M. bolletii</text><text class="t" x="285" y="708">2 ,- ,2,2,2,3,3 ,2 ,2</text><use xlink:href="#bJ" y="705"/></g>
<g id="row36"><rect x="106.5" y="721.5" width="7" height="7" fill="#c8bf78"/><text class="n" x="120" y="728">36</text><text class="t" x="142" y="728">gos-1-873</text><text class="t" x="205" y="728">M. bolletii</text><text class="t" x="285" y="728">3 ,5 ,3,3,2,7,4+,2+,1+</text><use xlink:href="#bK" y="725"/></g>
<g id="row37"><rect x="106.5" y="741.6" width="7" height="7" fill="#10f0f8"/><text class="n" x="120" y="748.1">37</text><text class="t" x="142" y="748.1">gos-14-907</text><text class="t" x="205" y="748.1">M. massiliense</text><text class="t" x="285" y="748.1">3 ,3 ,2,<tspan font-size="5" dy="1">_ </tspan><tspan dy="-1">,1,2,1+,2 ,1</tspan></text><use xlink:href="#bL" y="745.1"/></g>
<g id="clusters">
<g id="clusterI"><path class="br" d="M535 14.5H553.5V191.5H537"/><text class="cl" x="564" y="104">M.abscessus cluster I</text></g>
<g id="clusterII"><path class="br" d="M537 215.5H553.5V432.5H537"/><text class="cl" x="562.5" y="325">M. abscessus cluster II</text></g>
<g id="clusterIII"><path class="br" d="M537 434.5H553.5V473.5H537"/><text class="cl" x="561.5" y="456">M. abscessus cluster III</text></g>
<g id="massI"><path class="br" d="M537 536.5H553.5V613.5H537"/><text class="cl" x="561.5" y="573">M. massiliense cluster I</text></g>
<g id="bollI"><path class="br" d="M537 676.5H553.5V739.5H537"/><text class="cl" x="561.5" y="710">M. bolletii cluster I</text></g>
</g>
</svg>
